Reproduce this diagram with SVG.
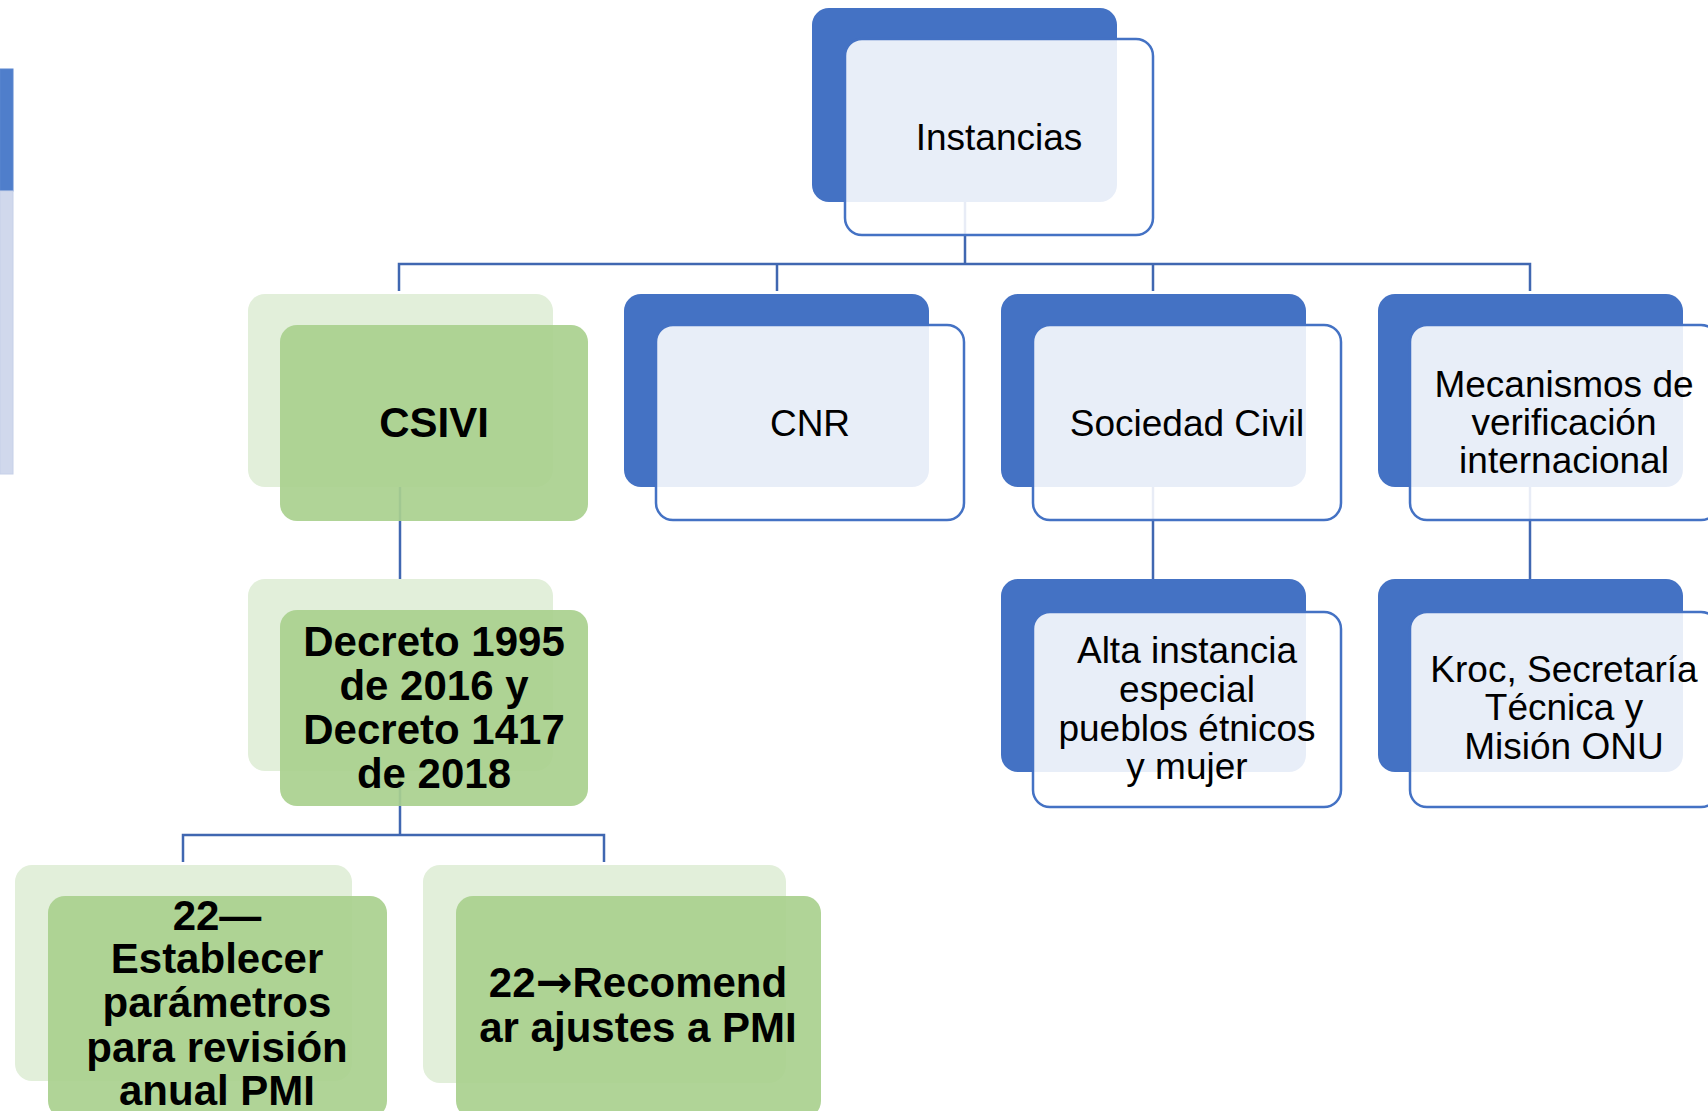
<svg xmlns="http://www.w3.org/2000/svg" width="1708" height="1111" viewBox="0 0 1708 1111">
<style>
.bk{fill:#4472C4}
.fr{fill:#FFFFFF;fill-opacity:0.88;stroke:#4472C4;stroke-width:2.5}
.gb{fill:#E2EFDA}
.gf{fill:#A9D08E;fill-opacity:0.92}
.t{font-family:"Liberation Sans",Arial,sans-serif;font-size:37px;fill:#000;text-anchor:middle}
.tb{font-family:"Liberation Sans",Arial,sans-serif;font-size:42px;font-weight:bold;fill:#000;text-anchor:middle}
.ar{font-family:"DejaVu Sans",sans-serif;font-size:44px;font-weight:bold}
.c{fill:none;stroke:#4067B1;stroke-width:2.5}
</style>
<rect width="1708" height="1111" fill="#FFFFFF"/>
<g id="left-edge">
<rect x="0" y="69" width="13" height="122" fill="#4F7ECB" stroke="#5A86CF" stroke-width="1"/>
<rect x="0" y="191" width="13" height="283" fill="#D0D8EC" stroke="#C6D0E8" stroke-width="1"/>
</g>
<g id="connectors">
<path class="c" d="M965 202 V264 M399 291 V264 H1530 V291 M777 264 V291 M1153 264 V291"/>
<path class="c" d="M400 487 V579"/>
<path class="c" d="M1153 487 V579"/>
<path class="c" d="M1530 487 V579"/>
<path class="c" d="M400 771 V835 M183 862 V835 H604 V862"/>
</g>
<g id="instancias">
<rect class="bk" x="812" y="8" width="305" height="194" rx="17"/>
<rect class="fr" x="845" y="39" width="308" height="196" rx="17"/>
<text class="t" x="999" y="150">Instancias</text>
</g>
<g id="csivi">
<rect class="gb" x="248" y="294" width="305" height="193" rx="17"/>
<rect class="gf" x="280" y="325" width="308" height="196" rx="17"/>
<text class="tb" x="434" y="437">CSIVI</text>
</g>
<g id="cnr">
<rect class="bk" x="624" y="294" width="305" height="193" rx="17"/>
<rect class="fr" x="656" y="325" width="308" height="195" rx="17"/>
<text class="t" x="810" y="436">CNR</text>
</g>
<g id="sociedad-civil">
<rect class="bk" x="1001" y="294" width="305" height="193" rx="17"/>
<rect class="fr" x="1033" y="325" width="308" height="195" rx="17"/>
<text class="t" x="1187" y="436">Sociedad Civil</text>
</g>
<g id="mecanismos">
<rect class="bk" x="1378" y="294" width="305" height="193" rx="17"/>
<rect class="fr" x="1410" y="325" width="308" height="195" rx="17"/>
<text class="t" x="1564" y="397">Mecanismos de</text>
<text class="t" x="1564" y="435">verificación</text>
<text class="t" x="1564" y="473">internacional</text>
</g>
<g id="decreto">
<rect class="gb" x="248" y="579" width="305" height="192" rx="17"/>
<rect class="gf" x="280" y="610" width="308" height="196" rx="17"/>
<text class="tb" x="434" y="656">Decreto 1995</text>
<text class="tb" x="434" y="700">de 2016 y</text>
<text class="tb" x="434" y="744">Decreto 1417</text>
<text class="tb" x="434" y="788">de 2018</text>
</g>
<g id="alta-instancia">
<rect class="bk" x="1001" y="579" width="305" height="193" rx="17"/>
<rect class="fr" x="1033" y="612" width="308" height="195" rx="17"/>
<text class="t" x="1187" y="663">Alta instancia</text>
<text class="t" x="1187" y="702">especial</text>
<text class="t" x="1187" y="741">pueblos étnicos</text>
<text class="t" x="1187" y="779">y mujer</text>
</g>
<g id="kroc">
<rect class="bk" x="1378" y="579" width="305" height="193" rx="17"/>
<rect class="fr" x="1410" y="612" width="308" height="195" rx="17"/>
<text class="t" x="1564" y="682">Kroc, Secretaría</text>
<text class="t" x="1564" y="720">Técnica y</text>
<text class="t" x="1564" y="759">Misión ONU</text>
</g>
<g id="establecer">
<rect class="gb" x="15" y="865" width="337" height="216" rx="17"/>
<rect class="gf" x="48" y="896" width="339" height="222" rx="17"/>
<text class="tb" x="217" y="930">22—</text>
<text class="tb" x="217" y="973">Establecer</text>
<text class="tb" x="217" y="1017">parámetros</text>
<text class="tb" x="217" y="1062">para revisión</text>
<text class="tb" x="217" y="1105">anual PMI</text>
</g>
<g id="recomendar">
<rect class="gb" x="423" y="865" width="363" height="218" rx="17"/>
<rect class="gf" x="456" y="896" width="365" height="222" rx="17"/>
<text class="tb" x="638" y="997">22<tspan class="ar">→</tspan>Recomend</text>
<text class="tb" x="638" y="1042">ar ajustes a PMI</text>
</g>
</svg>
